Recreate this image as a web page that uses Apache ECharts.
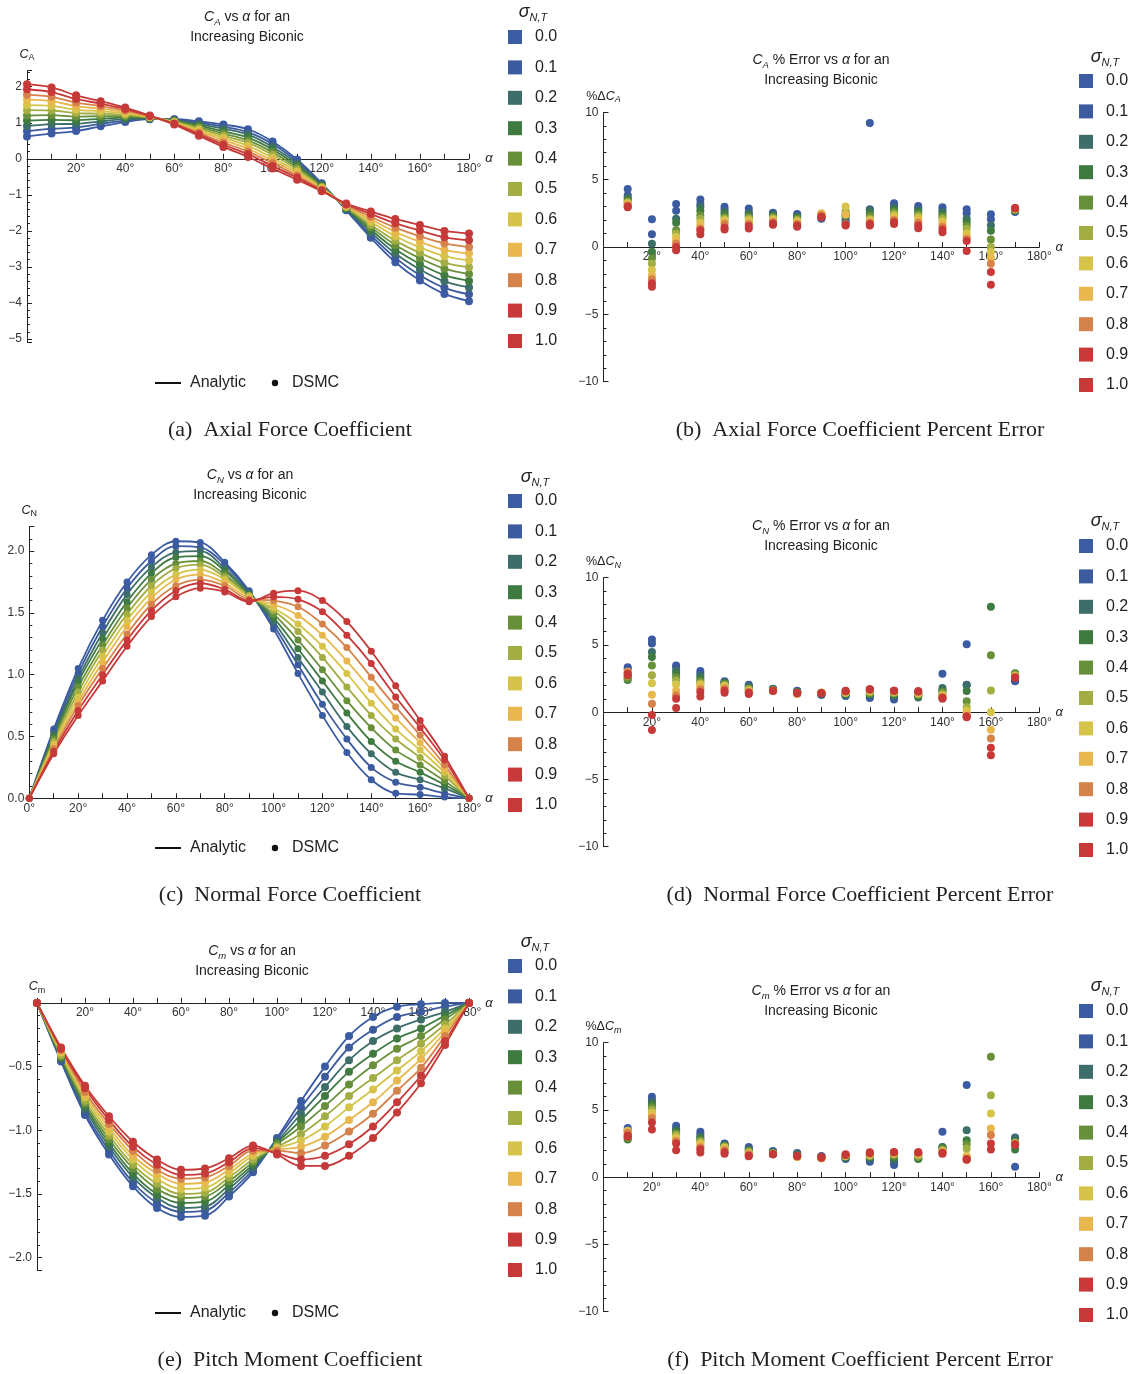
<!DOCTYPE html>
<html>
<head>
<meta charset="utf-8">
<title>Increasing Biconic coefficients</title>
<script src="https://cdn.jsdelivr.net/npm/echarts@6/dist/echarts.min.js"></script>
<style>
  html, body { margin: 0; padding: 0; background: #fff; }
  #main { width: 1135px; height: 1374px; }
</style>
</head>
<body>
<div id="main"></div>
<script>
// angle of attack (deg)
var alphaLine = [0, 10, 20, 30, 40, 50, 60, 70, 80, 90, 100, 110, 120, 130, 140, 150, 160, 170, 180];
var alphaErr = [10, 20, 30, 40, 50, 60, 70, 80, 90, 100, 110, 120, 130, 140, 150, 160, 170];
var sigmaNames = ['0.0', '0.1', '0.2', '0.3', '0.4', '0.5', '0.6', '0.7', '0.8', '0.9', '1.0'];
var sigmaColors = ['#3b5ca3', '#3c5a9e', '#3e6e69', '#3f7a41', '#68903b', '#a2ad43',
                   '#d5c449', '#e8b84e', '#d5834b', '#c8393a', '#c53a38'];

// axial force coefficient, one row per sigma
var CA = [
  [0.62, 0.70, 0.77, 0.90, 1.02, 1.10, 1.10, 1.04, 0.95, 0.82, 0.48, -0.02, -0.68, -1.43, -2.19, -2.87, -3.38, -3.75, -3.95],
  [0.77, 0.83, 0.87, 0.97, 1.06, 1.11, 1.09, 1.00, 0.89, 0.74, 0.41, -0.08, -0.70, -1.41, -2.12, -2.75, -3.23, -3.58, -3.76],
  [0.91, 0.96, 0.97, 1.04, 1.10, 1.12, 1.07, 0.96, 0.83, 0.67, 0.33, -0.13, -0.72, -1.39, -2.04, -2.63, -3.07, -3.40, -3.57],
  [1.06, 1.08, 1.07, 1.11, 1.14, 1.13, 1.06, 0.92, 0.76, 0.59, 0.26, -0.19, -0.75, -1.37, -1.97, -2.51, -2.92, -3.23, -3.39],
  [1.20, 1.21, 1.17, 1.18, 1.18, 1.14, 1.04, 0.88, 0.70, 0.51, 0.18, -0.24, -0.77, -1.35, -1.90, -2.39, -2.76, -3.05, -3.20],
  [1.35, 1.34, 1.27, 1.25, 1.22, 1.15, 1.03, 0.84, 0.64, 0.44, 0.11, -0.30, -0.79, -1.34, -1.83, -2.27, -2.61, -2.88, -3.01],
  [1.49, 1.47, 1.36, 1.32, 1.26, 1.16, 1.01, 0.80, 0.58, 0.36, 0.03, -0.36, -0.81, -1.32, -1.75, -2.15, -2.46, -2.70, -2.82],
  [1.64, 1.60, 1.46, 1.39, 1.30, 1.17, 1.00, 0.76, 0.52, 0.28, -0.05, -0.41, -0.83, -1.30, -1.68, -2.03, -2.30, -2.53, -2.63],
  [1.78, 1.72, 1.56, 1.46, 1.34, 1.18, 0.98, 0.72, 0.45, 0.20, -0.12, -0.47, -0.86, -1.28, -1.61, -1.91, -2.15, -2.35, -2.45],
  [1.93, 1.85, 1.66, 1.53, 1.38, 1.19, 0.97, 0.68, 0.39, 0.13, -0.20, -0.52, -0.88, -1.26, -1.53, -1.79, -1.99, -2.18, -2.26],
  [2.07, 1.98, 1.76, 1.60, 1.42, 1.20, 0.95, 0.64, 0.33, 0.05, -0.27, -0.58, -0.90, -1.24, -1.46, -1.67, -1.84, -2.00, -2.07]
];

// normal force coefficient
var CN = [
  [0, 0.56, 1.05, 1.44, 1.75, 1.97, 2.08, 2.07, 1.91, 1.68, 1.37, 1.01, 0.67, 0.37, 0.15, 0.04, 0.03, 0.01, 0],
  [0, 0.54, 1.01, 1.39, 1.70, 1.92, 2.04, 2.03, 1.89, 1.67, 1.40, 1.08, 0.76, 0.48, 0.25, 0.13, 0.09, 0.04, 0],
  [0, 0.52, 0.97, 1.34, 1.65, 1.87, 1.99, 2.00, 1.86, 1.66, 1.43, 1.14, 0.86, 0.58, 0.36, 0.21, 0.15, 0.08, 0],
  [0, 0.50, 0.94, 1.29, 1.59, 1.82, 1.95, 1.96, 1.84, 1.65, 1.46, 1.21, 0.95, 0.69, 0.46, 0.30, 0.21, 0.11, 0],
  [0, 0.48, 0.90, 1.24, 1.54, 1.77, 1.90, 1.92, 1.81, 1.64, 1.49, 1.28, 1.04, 0.79, 0.57, 0.39, 0.27, 0.14, 0],
  [0, 0.46, 0.86, 1.20, 1.49, 1.72, 1.86, 1.89, 1.79, 1.64, 1.52, 1.35, 1.14, 0.90, 0.67, 0.48, 0.33, 0.18, 0],
  [0, 0.44, 0.82, 1.15, 1.44, 1.67, 1.81, 1.85, 1.77, 1.63, 1.54, 1.41, 1.23, 1.01, 0.77, 0.56, 0.39, 0.21, 0],
  [0, 0.42, 0.78, 1.10, 1.39, 1.62, 1.77, 1.81, 1.74, 1.62, 1.57, 1.48, 1.32, 1.11, 0.88, 0.65, 0.45, 0.24, 0],
  [0, 0.40, 0.75, 1.05, 1.33, 1.57, 1.72, 1.77, 1.72, 1.61, 1.60, 1.55, 1.41, 1.22, 0.98, 0.74, 0.51, 0.27, 0],
  [0, 0.38, 0.71, 1.00, 1.28, 1.52, 1.68, 1.74, 1.69, 1.60, 1.63, 1.61, 1.51, 1.32, 1.09, 0.82, 0.57, 0.31, 0],
  [0, 0.36, 0.67, 0.95, 1.23, 1.47, 1.63, 1.70, 1.67, 1.59, 1.66, 1.68, 1.60, 1.43, 1.19, 0.91, 0.63, 0.34, 0]
];

// pitch moment coefficient
var CM = [
  [0, -0.46, -0.88, -1.19, -1.44, -1.61, -1.68, -1.67, -1.52, -1.33, -1.06, -0.77, -0.50, -0.26, -0.11, -0.03, -0.01, 0, 0],
  [0, -0.45, -0.86, -1.16, -1.41, -1.57, -1.64, -1.63, -1.49, -1.31, -1.07, -0.82, -0.58, -0.35, -0.21, -0.11, -0.07, -0.03, 0],
  [0, -0.44, -0.83, -1.13, -1.37, -1.53, -1.61, -1.60, -1.46, -1.29, -1.09, -0.87, -0.66, -0.45, -0.30, -0.20, -0.13, -0.07, 0],
  [0, -0.43, -0.81, -1.10, -1.34, -1.50, -1.57, -1.56, -1.43, -1.27, -1.10, -0.92, -0.73, -0.54, -0.40, -0.28, -0.20, -0.10, 0],
  [0, -0.42, -0.79, -1.07, -1.30, -1.46, -1.53, -1.52, -1.40, -1.25, -1.11, -0.97, -0.81, -0.64, -0.49, -0.36, -0.26, -0.13, 0],
  [0, -0.41, -0.77, -1.04, -1.27, -1.42, -1.50, -1.49, -1.37, -1.23, -1.13, -1.03, -0.89, -0.73, -0.59, -0.45, -0.32, -0.17, 0],
  [0, -0.39, -0.74, -1.01, -1.23, -1.38, -1.46, -1.45, -1.34, -1.20, -1.14, -1.08, -0.97, -0.82, -0.68, -0.53, -0.38, -0.20, 0],
  [0, -0.38, -0.72, -0.98, -1.20, -1.34, -1.42, -1.41, -1.31, -1.18, -1.15, -1.13, -1.05, -0.92, -0.78, -0.61, -0.44, -0.23, 0],
  [0, -0.37, -0.70, -0.95, -1.16, -1.31, -1.38, -1.37, -1.28, -1.16, -1.16, -1.18, -1.12, -1.01, -0.87, -0.69, -0.51, -0.26, 0],
  [0, -0.36, -0.67, -0.92, -1.13, -1.27, -1.35, -1.34, -1.25, -1.14, -1.18, -1.23, -1.20, -1.11, -0.97, -0.78, -0.57, -0.30, 0],
  [0, -0.35, -0.65, -0.89, -1.09, -1.23, -1.31, -1.30, -1.22, -1.12, -1.19, -1.28, -1.28, -1.20, -1.06, -0.86, -0.63, -0.33, 0]
];

// percent error of DSMC vs analytic, one row per sigma (null = off the plot)
var errCA = [
  [4.3, 2.06, 3.2, 3.52, 2.98, 2.85, 2.55, 2.45, 2.1, 1.85, 9.2, 3.25, 3.05, 2.95, 2.8, 2.43, 2.6],
  [3.85, 0.95, 2.7, 3.2, 2.78, 2.6, 2.48, 2.35, 2.15, 1.95, 2.8, 3.05, 2.9, 2.75, 2.5, 2.06, 2.65],
  [3.65, 0.25, 2.1, 2.98, 2.6, 2.48, 2.4, 2.25, 2.2, 2.2, 2.75, 2.9, 2.75, 2.6, 2.1, 1.6, 2.7],
  [3.5, -0.35, 1.8, 2.7, 2.43, 2.36, 2.3, 2.2, 2.25, 2.35, 2.5, 2.75, 2.6, 2.4, 1.85, 1.2, 2.75],
  [3.4, -0.85, 1.25, 2.35, 2.23, 2.23, 2.22, 2.1, 2.3, 2.5, 2.3, 2.6, 2.45, 2.25, 1.6, 0.55, 2.75],
  [3.3, -1.25, 1.0, 2.1, 2.1, 2.1, 2.14, 2.0, 2.4, 2.7, 2.1, 2.45, 2.3, 2.1, 1.35, 0.0, 2.8],
  [3.25, -1.7, 0.75, 1.8, 1.98, 1.98, 2.05, 1.9, 2.5, 3.0, 2.0, 2.3, 2.15, 1.9, 1.0, -0.37, 2.8],
  [3.2, -2.1, 0.5, 1.6, 1.86, 1.8, 1.95, 1.8, 2.45, 2.4, 1.9, 2.15, 2.0, 1.7, 0.8, -0.8, 2.85],
  [3.1, -2.4, 0.25, 1.35, 1.7, 1.7, 1.85, 1.7, 2.35, 1.7, 1.8, 2.0, 1.8, 1.5, 0.6, -1.24, 2.9],
  [3.0, -2.7, 0.0, 1.25, 1.45, 1.55, 1.75, 1.6, 2.25, 1.6, 1.7, 1.85, 1.6, 1.3, 0.45, -1.86, 2.9],
  [2.95, -2.95, -0.25, 0.95, 1.3, 1.38, 1.65, 1.5, 2.2, 1.65, 1.6, 1.7, 1.4, 1.1, -0.3, -2.8, 2.85]
];

var errCN = [
  [3.35, 5.4, 3.48, 3.06, 2.3, 2.05, 1.75, 1.6, 1.3, 1.2, 1.05, 0.95, 1.3, 2.85, 5.05, null, 2.3],
  [3.2, 5.1, 3.36, 2.86, 2.25, 1.95, 1.72, 1.55, 1.3, 1.25, 1.2, 1.1, 1.25, 1.65, 2.05, null, 2.35],
  [2.6, 4.48, 3.1, 2.69, 2.2, 1.9, 1.7, 1.5, 1.35, 1.3, 1.3, 1.2, 1.1, 1.8, 2.0, null, 2.8],
  [2.4, 4.1, 2.86, 2.49, 2.15, 1.8, 1.68, 1.5, 1.4, 1.35, 1.35, 1.3, 1.2, 1.6, 1.57, 7.84, 2.9],
  [2.5, 3.48, 2.6, 2.3, 2.1, 1.75, 1.65, 1.45, 1.4, 1.4, 1.4, 1.4, 1.3, 1.5, 0.82, 4.23, 2.85],
  [2.7, 2.74, 2.36, 2.16, 2.0, 1.7, 1.62, 1.4, 1.45, 1.45, 1.5, 1.45, 1.35, 1.35, 0.37, 1.62, 2.75],
  [2.9, 2.16, 2.06, 2.06, 1.95, 1.6, 1.6, 1.35, 1.45, 1.45, 1.55, 1.5, 1.4, 1.25, 0.12, 0.0, 2.7],
  [3.0, 1.29, 1.6, 1.87, 1.85, 1.55, 1.6, 1.35, 1.45, 1.5, 1.6, 1.55, 1.45, 1.15, -0.12, -1.3, 2.65],
  [2.95, 0.62, 1.24, 1.7, 1.75, 1.5, 1.6, 1.4, 1.45, 1.55, 1.65, 1.6, 1.5, 1.05, -0.32, -1.95, 2.6],
  [2.85, -0.2, 1.0, 1.5, 1.6, 1.45, 1.6, 1.4, 1.4, 1.55, 1.7, 1.6, 1.55, 1.0, -0.37, -2.65, 2.6],
  [2.75, -1.32, 0.32, 1.17, 1.45, 1.35, 1.6, 1.45, 1.4, 1.6, 1.7, 1.6, 1.55, 1.1, -0.3, -3.2, 2.55]
];

var errCM = [
  [3.65, 5.98, 3.82, 3.37, 2.5, 2.25, 1.95, 1.8, 1.55, 1.35, 1.15, 0.9, 1.75, 3.37, 6.85, null, 0.77],
  [3.5, 5.73, 3.62, 3.18, 2.45, 2.15, 1.9, 1.75, 1.55, 1.4, 1.3, 1.1, 1.6, 2.2, null, null, 2.95],
  [3.0, 5.6, 3.5, 3.0, 2.4, 2.05, 1.85, 1.7, 1.5, 1.45, 1.4, 1.3, 1.4, 2.25, 3.5, null, 2.9],
  [2.8, 5.4, 3.37, 2.88, 2.35, 2.0, 1.8, 1.65, 1.5, 1.5, 1.5, 1.45, 1.35, 2.2, 2.75, null, 2.06],
  [2.9, 5.2, 3.25, 2.75, 2.3, 1.95, 1.8, 1.6, 1.45, 1.55, 1.55, 1.6, 1.5, 2.1, 2.45, 8.96, 2.6],
  [3.2, 5.0, 3.13, 2.63, 2.25, 1.85, 1.75, 1.55, 1.45, 1.55, 1.6, 1.7, 1.6, 2.0, 2.13, 6.1, 2.55],
  [3.45, 4.8, 2.95, 2.5, 2.2, 1.8, 1.75, 1.5, 1.4, 1.6, 1.65, 1.75, 1.7, 1.95, 1.6, 4.74, 2.5],
  [3.4, 4.6, 2.83, 2.38, 2.1, 1.75, 1.7, 1.5, 1.4, 1.6, 1.7, 1.8, 1.75, 1.9, 1.5, 3.62, 2.5],
  [3.3, 4.4, 2.68, 2.2, 2.0, 1.7, 1.7, 1.55, 1.45, 1.65, 1.75, 1.85, 1.8, 1.85, 1.3, 3.13, 2.45],
  [3.1, 4.07, 2.5, 2.08, 1.85, 1.6, 1.7, 1.55, 1.45, 1.65, 1.8, 1.85, 1.85, 1.8, 1.3, 2.5, 2.45],
  [3.0, 3.55, 2.0, 1.84, 1.75, 1.55, 1.7, 1.6, 1.5, 1.7, 1.85, 1.85, 1.85, 1.75, 1.35, 2.06, 2.4]
];

var sans = '"Liberation Sans", Arial, Helvetica, sans-serif';
var serif = '"Liberation Serif", "Times New Roman", serif';
var ink = '#222';

function uminus(s) { return String(s).replace('-', '\u2212'); }
function onStep(v, step) { var r = Math.round(v / step) * step; return Math.abs(v - r) < 1e-6; }

// layout of the six panels (pixel positions measured on the reference)
var panels = [
  { rows: CA, xs: alphaLine, kind: 'line', sym: 8,
    grid: { left: 27, top: 70.5, width: 442, height: 272.1 },
    y: { min: -5.1, max: 2.45, splitNumber: 7 },
    yfmt: function (v) { return onStep(v, 1) ? uminus(Math.round(v)) : ''; },
    yname: '{c|C}{s|A}', zeroLabel: false,
    title: [247, 7], titleVar: 'A', legend: [508, 29], sig: [533, 12], key: 383,
    caption: [290, 430, '(a)  Axial Force Coefficient'] },
  { rows: errCA, xs: alphaErr, kind: 'err', sym: 8,
    grid: { left: 603.5, top: 112.3, width: 435.8, height: 269.4 },
    y: { min: -10, max: 10, interval: 5 },
    yfmt: function (v) { return uminus(v); },
    yname: '{p|%\u0394}{c|C}{si|A}', zeroLabel: false,
    title: [821, 50], titleVar: 'A', err: true, legend: [1079, 73], sig: [1105, 57],
    caption: [860, 430, '(b)  Axial Force Coefficient Percent Error'] },
  { rows: CN, xs: alphaLine, kind: 'line', sym: 7,
    grid: { left: 29.3, top: 526.4, width: 439.7, height: 271.9 },
    y: { min: 0, max: 2.2, splitNumber: 4 },
    yfmt: function (v) { return onStep(v, 0.5) ? v.toFixed(1) : ''; },
    yname: '{c|C}{s|N}', zeroLabel: true,
    title: [250, 465], titleVar: 'N', legend: [508, 493], sig: [535, 477], key: 848,
    caption: [290, 895, '(c)  Normal Force Coefficient'] },
  { rows: errCN, xs: alphaErr, kind: 'err', sym: 8,
    grid: { left: 603.5, top: 577.7, width: 435.8, height: 269 },
    y: { min: -10, max: 10, interval: 5 },
    yfmt: function (v) { return uminus(v); },
    yname: '{p|%\u0394}{c|C}{si|N}', zeroLabel: false,
    title: [821, 516], titleVar: 'N', err: true, legend: [1079, 538], sig: [1105, 521],
    caption: [860, 895, '(d)  Normal Force Coefficient Percent Error'] },
  { rows: CM, xs: alphaLine, kind: 'line', sym: 8,
    grid: { left: 37, top: 1002.9, width: 432, height: 267.5 },
    y: { min: -2.1, max: 0, splitNumber: 4 },
    yfmt: function (v) { return (onStep(v, 0.5) && v < 0) ? uminus(v.toFixed(1)) : ''; },
    yname: '{c|C}{s|m}', zeroLabel: false,
    title: [252, 941], titleVar: 'm', legend: [508, 958], sig: [535, 942], key: 1313,
    caption: [290, 1360, '(e)  Pitch Moment Coefficient'] },
  { rows: errCM, xs: alphaErr, kind: 'err', sym: 8,
    grid: { left: 603.5, top: 1042.7, width: 435.8, height: 269 },
    y: { min: -10, max: 10, interval: 5 },
    yfmt: function (v) { return uminus(v); },
    yname: '{p|%\u0394}{c|C}{si|m}', zeroLabel: false,
    title: [821, 981], titleVar: 'm', err: true, legend: [1079, 1003], sig: [1105, 986],
    caption: [860, 1360, '(f)  Pitch Moment Coefficient Percent Error'] }
];

var grids = [], xAxes = [], yAxes = [], legends = [], series = [], graphics = [];

var nameRich = {
  p: { fontFamily: sans, fontSize: 12.5, color: ink, lineHeight: 16 },
  c: { fontFamily: sans, fontSize: 12.5, fontStyle: 'italic', color: ink, lineHeight: 16 },
  s: { fontFamily: sans, fontSize: 9, color: ink, lineHeight: 16, verticalAlign: 'bottom' },
  si: { fontFamily: sans, fontSize: 9, fontStyle: 'italic', color: ink, lineHeight: 16, verticalAlign: 'bottom' }
};

panels.forEach(function (p, i) {
  grids.push(p.grid);

  // the alpha axis sits on the zero line: shift it up from the grid bottom
  var zeroShift = p.grid.height * (0 - p.y.min) / (p.y.max - p.y.min);

  xAxes.push({
    gridIndex: i, type: 'value', min: 0, max: 180, interval: 10,
    position: 'bottom', offset: -zeroShift,
    name: '\u03b1', nameLocation: 'end', nameGap: 9,
    nameTextStyle: { fontFamily: sans, fontStyle: 'italic', fontSize: 13, color: ink },
    axisLine: { onZero: false, lineStyle: { color: ink, width: 1 } },
    axisTick: { show: true, inside: true, length: 5, lineStyle: { color: ink } },
    axisLabel: {
      fontFamily: sans, fontSize: 12, color: '#333', margin: 4,
      formatter: (function (zero) {
        return function (v) { return (v % 20 === 0 && (v > 0 || zero)) ? v + '\u00b0' : ''; };
      })(p.zeroLabel)
    },
    splitLine: { show: false }
  });

  var ya = {
    gridIndex: i, type: 'value', min: p.y.min, max: p.y.max,
    name: p.yname, nameLocation: 'end', nameGap: 8,
    nameTextStyle: { rich: nameRich },
    axisLine: { show: true, onZero: false, lineStyle: { color: ink, width: 1 } },
    axisTick: { show: true, inside: true, length: 5, lineStyle: { color: ink } },
    minorTick: { show: true, splitNumber: 5, length: 3, lineStyle: { color: ink } },
    axisLabel: { fontFamily: sans, fontSize: 12, color: '#333', margin: 5, formatter: p.yfmt },
    splitLine: { show: false }
  };
  if (p.y.interval) ya.interval = p.y.interval; else ya.splitNumber = p.y.splitNumber;
  yAxes.push(ya);

  legends.push({
    data: sigmaNames, orient: 'vertical', left: p.legend[0], top: p.legend[1],
    icon: 'rect', itemWidth: 14, itemHeight: 14, itemGap: 14.4, padding: 0,
    selectedMode: false,
    textStyle: { fontFamily: sans, fontSize: 16, color: ink, lineHeight: 14, padding: [0, 0, 0, 8] }
  });

  // analytic curves first, DSMC dots on top
  if (p.kind === 'line') {
    p.rows.forEach(function (row, k) {
      series.push({
        type: 'line', name: sigmaNames[k], xAxisIndex: i, yAxisIndex: i,
        data: p.xs.map(function (a, j) { return [a, row[j]]; }),
        smooth: 0.35, showSymbol: false, silent: true, z: 2,
        lineStyle: { width: 1.8, color: sigmaColors[k] },
        itemStyle: { color: sigmaColors[k] }
      });
    });
  }
  p.rows.forEach(function (row, k) {
    var pts = [];
    p.xs.forEach(function (a, j) { if (row[j] !== null) pts.push([a, row[j]]); });
    series.push({
      type: 'scatter', name: sigmaNames[k], xAxisIndex: i, yAxisIndex: i,
      data: pts, symbol: 'circle', symbolSize: p.sym, silent: true, z: 3,
      itemStyle: { color: sigmaColors[k], opacity: 1 }
    });
  });

  // panel title
  var head = p.err
    ? '{i|C}{si|' + p.titleVar + '} % Error vs {i|\u03b1} for an\n{t|Increasing Biconic}'
    : '{i|C}{si|' + p.titleVar + '} vs {i|\u03b1} for an\n{t|Increasing Biconic}';
  graphics.push({
    type: 'text', x: p.title[0], y: p.title[1], silent: true,
    style: {
      text: head, align: 'center', textAlign: 'center', verticalAlign: 'top', textVerticalAlign: 'top',
      fontFamily: sans, fontSize: 14, fill: ink, lineHeight: 20,
      rich: {
        i: { fontFamily: sans, fontSize: 14, fontStyle: 'italic', lineHeight: 20 },
        si: { fontFamily: sans, fontSize: 9.5, fontStyle: 'italic', lineHeight: 20, verticalAlign: 'bottom' },
        t: { fontFamily: sans, fontSize: 14, lineHeight: 20 }
      }
    }
  });

  // legend heading sigma_{N,T}
  graphics.push({
    type: 'text', x: p.sig[0], y: p.sig[1], silent: true,
    style: {
      text: '{g|\u03c3}{s|N,T}', align: 'center', textAlign: 'center',
      verticalAlign: 'middle', textVerticalAlign: 'middle', fill: ink,
      rich: {
        g: { fontFamily: sans, fontSize: 18, fontStyle: 'italic', lineHeight: 22 },
        s: { fontFamily: sans, fontSize: 11, fontStyle: 'italic', lineHeight: 22, verticalAlign: 'bottom' }
      }
    }
  });

  // Analytic / DSMC key
  if (p.key) {
    graphics.push({ type: 'line', silent: true, shape: { x1: 155, y1: p.key, x2: 181, y2: p.key },
      style: { stroke: '#111', lineWidth: 2 } });
    graphics.push({ type: 'text', x: 190, y: p.key, silent: true,
      style: { text: 'Analytic', fontFamily: sans, fontSize: 16, fill: ink,
        verticalAlign: 'middle', textVerticalAlign: 'middle' } });
    graphics.push({ type: 'circle', silent: true, shape: { cx: 275, cy: p.key, r: 3.2 },
      style: { fill: '#111' } });
    graphics.push({ type: 'text', x: 292, y: p.key, silent: true,
      style: { text: 'DSMC', fontFamily: sans, fontSize: 16, fill: ink,
        verticalAlign: 'middle', textVerticalAlign: 'middle' } });
  }

  // sub-figure caption
  graphics.push({
    type: 'text', x: p.caption[0], y: p.caption[1], silent: true,
    style: { text: p.caption[2], fontFamily: serif, fontSize: 22, fill: '#222',
      align: 'center', textAlign: 'center', verticalAlign: 'middle', textVerticalAlign: 'middle' }
  });
});

var chart = echarts.init(document.getElementById('main'), null, { renderer: 'canvas' });
chart.setOption({
  animation: false,
  backgroundColor: '#ffffff',
  grid: grids,
  xAxis: xAxes,
  yAxis: yAxes,
  legend: legends,
  series: series,
  graphic: graphics
});
</script>
</body>
</html>
